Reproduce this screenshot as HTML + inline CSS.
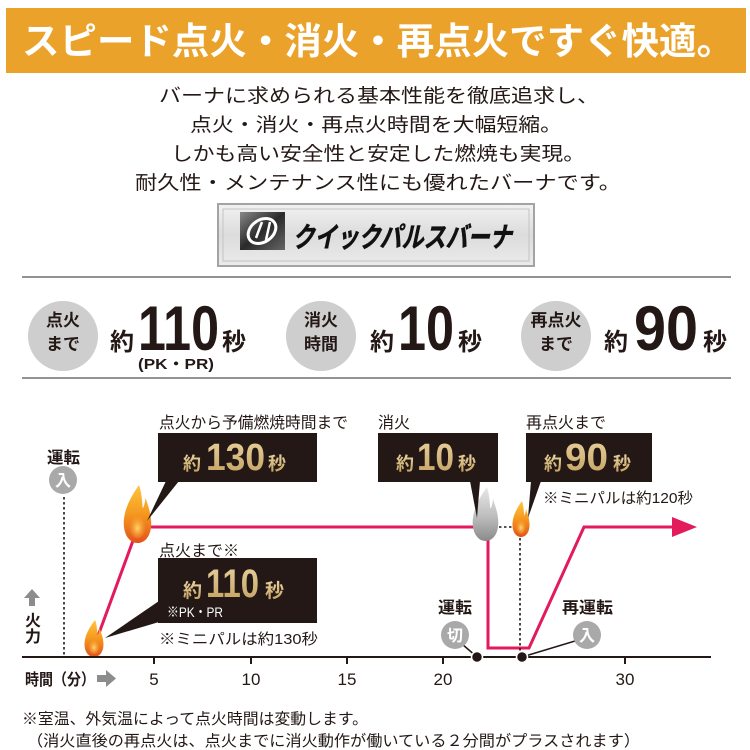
<!DOCTYPE html>
<html><head><meta charset="utf-8"><style>
html,body{margin:0;padding:0;background:#fff;}
svg{display:block;}
text{font-family:"Liberation Sans","Noto Sans CJK JP",sans-serif;}
</style></head><body>
<svg width="750" height="750" viewBox="0 0 750 750" xmlns="http://www.w3.org/2000/svg">
<defs>
<linearGradient id="fl" x1="0" y1="0" x2="0" y2="1">
<stop offset="0" stop-color="#ffc53d"/><stop offset="0.5" stop-color="#f5981f"/><stop offset="1" stop-color="#e2521b"/>
</linearGradient>
<radialGradient id="flh" cx="0.5" cy="0.6" r="0.5">
<stop offset="0" stop-color="#ffe27a" stop-opacity="0.9"/><stop offset="1" stop-color="#ffb030" stop-opacity="0"/>
</radialGradient>
<linearGradient id="gf" x1="0" y1="0" x2="0" y2="1">
<stop offset="0" stop-color="#e8e8e8"/><stop offset="0.55" stop-color="#bdbdbd"/><stop offset="1" stop-color="#8a8a8a"/>
</linearGradient>
<linearGradient id="logo" x1="0" y1="0" x2="0" y2="1">
<stop offset="0" stop-color="#f2f2f2"/><stop offset="0.5" stop-color="#dcdcdc"/><stop offset="1" stop-color="#ebebeb"/>
</linearGradient>
<linearGradient id="emb" x1="0" y1="0" x2="1" y2="1">
<stop offset="0" stop-color="#888"/><stop offset="0.5" stop-color="#2a2a2a"/><stop offset="1" stop-color="#666"/>
</linearGradient>
<linearGradient id="gold" x1="0" y1="0" x2="0" y2="1">
<stop offset="0" stop-color="#e9d3a0"/><stop offset="1" stop-color="#c29e5c"/>
</linearGradient>
</defs>

<!-- banner -->
<rect x="6" y="8" width="740" height="65" fill="#eaa22a"/>
<text x="22" y="54" font-size="37" font-weight="bold" fill="#fff" textLength="712" lengthAdjust="spacingAndGlyphs">スピード点火・消火・再点火ですぐ快適。</text>

<!-- body text -->
<g font-size="19" fill="#231815">
<text x="159" y="102" textLength="440" lengthAdjust="spacingAndGlyphs">バーナに求められる基本性能を徹底追求し、</text>
<text x="190" y="131" textLength="372" lengthAdjust="spacingAndGlyphs">点火・消火・再点火時間を大幅短縮。</text>
<text x="171" y="160" textLength="414" lengthAdjust="spacingAndGlyphs">しかも高い安全性と安定した燃焼も実現。</text>
<text x="135" y="189" textLength="486" lengthAdjust="spacingAndGlyphs">耐久性・メンテナンス性にも優れたバーナです。</text>
</g>

<!-- logo -->
<rect x="218" y="204" width="316" height="62" fill="url(#logo)" stroke="#a3a3a3" stroke-width="2"/>
<rect x="223" y="209" width="306" height="52" fill="none" stroke="#c4c4c4" stroke-width="1"/>
<rect x="240" y="212" width="45" height="38" fill="url(#emb)"/>
<ellipse cx="262" cy="231" rx="15" ry="11" transform="rotate(-35 262 231)" fill="none" stroke="#fff" stroke-width="3"/>
<path d="M256 238 L262 222 M266 240 L270 222" stroke="#fff" stroke-width="2.5"/>
<text x="293" y="247" font-size="28" font-weight="bold" fill="#111" stroke="#111" stroke-width="0.6" textLength="219" lengthAdjust="spacingAndGlyphs" transform="skewX(-12) translate(52 0)">クイックパルスバーナ</text>

<!-- separators -->
<line x1="22" y1="277" x2="731" y2="277" stroke="#6e6e6e" stroke-width="1.5"/>
<line x1="22" y1="378" x2="731" y2="378" stroke="#6e6e6e" stroke-width="1.5"/>

<!-- stat circles -->
<g fill="#cecece">
<circle cx="63" cy="336" r="35"/>
<circle cx="321" cy="336" r="35"/>
<circle cx="556" cy="336" r="35"/>
</g>
<g font-size="17" font-weight="bold" fill="#231815" text-anchor="middle">
<text x="63" y="326">点火</text><text x="63" y="350">まで</text>
<text x="321" y="326">消火</text><text x="321" y="350">時間</text>
<text x="556" y="326">再点火</text><text x="556" y="350">まで</text>
</g>
<g fill="#231815" font-weight="bold">
<text x="110" y="350" font-size="24">約</text>
<text x="138" y="350" font-size="63" textLength="81" lengthAdjust="spacingAndGlyphs">110</text>
<text x="222" y="350" font-size="24">秒</text>
<text x="138" y="369" font-size="15" textLength="76" lengthAdjust="spacingAndGlyphs">(PK・PR)</text>
<text x="370" y="350" font-size="24">約</text>
<text x="398" y="350" font-size="63" textLength="56" lengthAdjust="spacingAndGlyphs">10</text>
<text x="458" y="350" font-size="24">秒</text>
<text x="604" y="350" font-size="24">約</text>
<text x="634" y="350" font-size="63" textLength="64" lengthAdjust="spacingAndGlyphs">90</text>
<text x="703" y="350" font-size="24">秒</text>
</g>

<!-- chart labels -->
<g font-size="16" fill="#231815">
<text x="159" y="428" textLength="189" lengthAdjust="spacingAndGlyphs">点火から予備燃焼時間まで</text>
<text x="378" y="428">消火</text>
<text x="526" y="428">再点火まで</text>
<text x="543" y="503" font-size="15" textLength="150" lengthAdjust="spacingAndGlyphs">※ミニパルは約120秒</text>
<text x="159" y="556">点火まで※</text>
<text x="159" y="644" font-size="15" textLength="159" lengthAdjust="spacingAndGlyphs">※ミニパルは約130秒</text>
</g>

<!-- boxes -->
<g fill="#231815">
<rect x="158" y="433" width="159" height="49"/>
<rect x="378" y="433" width="120" height="49"/>
<rect x="526" y="433" width="126" height="49"/>
<rect x="158" y="558" width="159" height="65"/>
</g>
<g fill="url(#gold)" font-weight="bold">
<text x="183" y="470" font-size="18">約</text>
<text x="206" y="470" font-size="38" textLength="59" lengthAdjust="spacingAndGlyphs">130</text>
<text x="268" y="470" font-size="18">秒</text>
<text x="396" y="470" font-size="18">約</text>
<text x="417" y="470" font-size="38" textLength="37" lengthAdjust="spacingAndGlyphs">10</text>
<text x="458" y="470" font-size="18">秒</text>
<text x="544" y="470" font-size="18">約</text>
<text x="565" y="470" font-size="38" textLength="43" lengthAdjust="spacingAndGlyphs">90</text>
<text x="613" y="470" font-size="18">秒</text>
<text x="183" y="597" font-size="19">約</text>
<text x="206" y="597" font-size="40" textLength="53" lengthAdjust="spacingAndGlyphs">110</text>
<text x="265" y="597" font-size="19">秒</text>
</g>
<text x="167" y="617" font-size="14" fill="#fff" textLength="56" lengthAdjust="spacingAndGlyphs">※PK・PR</text>

<!-- pink series -->
<g stroke="#e31a5b" stroke-width="3" fill="none" stroke-linejoin="miter">
<polyline points="98,636 138,527 478,527"/>
<polyline points="488,535 488,648 529,648 584,527 674,527"/>
</g>
<polygon points="672,517 697,527 672,537" fill="#e31a5b"/>

<!-- dotted lines -->
<g stroke="#231815" stroke-width="1.6" stroke-dasharray="2.5,2.5" fill="none">
<line x1="64" y1="497" x2="64" y2="656"/>
<line x1="499" y1="527" x2="513" y2="527"/>
<line x1="520" y1="538" x2="520" y2="652"/>
</g>

<!-- flames -->
<g>
<g transform="translate(123 485) scale(0.29 0.58)">
<path fill="url(#fl)" d="M55,0 C35,15 8,35 3,60 C-1,85 22,100 50,100 C78,100 100,86 97,62 C95,45 85,35 78,22 C75,33 72,38 68,40 C65,25 64,12 55,0 Z"/>
<ellipse cx="50" cy="70" rx="30" ry="22" fill="url(#flh)"/>
</g>
<g transform="translate(472 487) scale(0.27 0.54)">
<path fill="url(#gf)" d="M55,0 C35,15 8,35 3,60 C-1,85 22,100 50,100 C78,100 100,86 97,62 C95,45 85,35 78,22 C75,33 72,38 68,40 C65,25 64,12 55,0 Z"/>
</g>
<g transform="translate(512 501) scale(0.18 0.36)">
<path fill="url(#fl)" d="M55,0 C35,15 8,35 3,60 C-1,85 22,100 50,100 C78,100 100,86 97,62 C95,45 85,35 78,22 C75,33 72,38 68,40 C65,25 64,12 55,0 Z"/>
<ellipse cx="50" cy="70" rx="30" ry="22" fill="url(#flh)"/>
</g>
<g transform="translate(84 620) scale(0.2 0.37)">
<path fill="url(#fl)" d="M55,0 C35,15 8,35 3,60 C-1,85 22,100 50,100 C78,100 100,86 97,62 C95,45 85,35 78,22 C75,33 72,38 68,40 C65,25 64,12 55,0 Z"/>
<ellipse cx="50" cy="70" rx="30" ry="22" fill="url(#flh)"/>
</g>
</g>

<!-- callout pointers -->
<g fill="#231815">
<polygon points="166,481 179,481 147,521"/>
<polygon points="470,481 480,481 477,518"/>
<polygon points="531,481 541,481 528,518"/>
<polygon points="159,601 159,622 105,638"/>
</g>

<!-- axis -->
<line x1="22" y1="657" x2="711" y2="657" stroke="#231815" stroke-width="2"/>
<g stroke="#231815" stroke-width="2">
<line x1="154" y1="657" x2="154" y2="664"/>
<line x1="251" y1="657" x2="251" y2="664"/>
<line x1="347" y1="657" x2="347" y2="664"/>
<line x1="443" y1="657" x2="443" y2="664"/>
<line x1="625" y1="657" x2="625" y2="664"/>
</g>
<g font-size="17" fill="#231815" text-anchor="middle">
<text x="154" y="685">5</text>
<text x="251" y="685">10</text>
<text x="347" y="685">15</text>
<text x="443" y="685">20</text>
<text x="625" y="685">30</text>
</g>
<text x="25" y="685" font-size="16" font-weight="bold" fill="#231815" textLength="70" lengthAdjust="spacingAndGlyphs">時間（分）</text>
<polygon points="97,675 106,675 106,670 116,678.5 106,687 106,682 97,682" fill="#8c8c8c"/>
<polygon points="32,589 40,598 35,598 35,606 29,606 29,598 24,598" fill="#8c8c8c"/>
<g font-size="16" font-weight="bold" fill="#231815" text-anchor="middle">
<text x="33" y="626">火</text>
<text x="33" y="642">力</text>
</g>

<!-- operation markers -->
<g font-size="16" font-weight="bold" fill="#231815">
<text x="47" y="463" textLength="33" lengthAdjust="spacingAndGlyphs">運転</text>
<text x="438" y="613" textLength="34" lengthAdjust="spacingAndGlyphs">運転</text>
<text x="562" y="613" textLength="51" lengthAdjust="spacingAndGlyphs">再運転</text>
</g>
<g stroke="#231815" stroke-width="1.5">
<line x1="462" y1="644" x2="477" y2="657"/>
<line x1="575" y1="641" x2="522" y2="657"/>
</g>
<g fill="#a9a9a9">
<circle cx="63" cy="480" r="14"/>
<circle cx="455" cy="635" r="14"/>
<circle cx="587" cy="635" r="14"/>
</g>
<g font-size="16" font-weight="bold" fill="#fff" text-anchor="middle">
<text x="63" y="486">入</text>
<text x="455" y="641">切</text>
<text x="587" y="641">入</text>
</g>
<g fill="#231815" stroke="#fff" stroke-width="1.5">
<circle cx="477" cy="657" r="5.5"/>
<circle cx="522" cy="657" r="5.5"/>
</g>

<!-- footnotes -->
<g font-size="15.5" fill="#231815">
<text x="22" y="724" textLength="346" lengthAdjust="spacingAndGlyphs">※室温、外気温によって点火時間は変動します。</text>
<text x="27" y="746" textLength="613" lengthAdjust="spacingAndGlyphs">（消火直後の再点火は、点火までに消火動作が働いている２分間がプラスされます）</text>
</g>
</svg>
</body></html>
